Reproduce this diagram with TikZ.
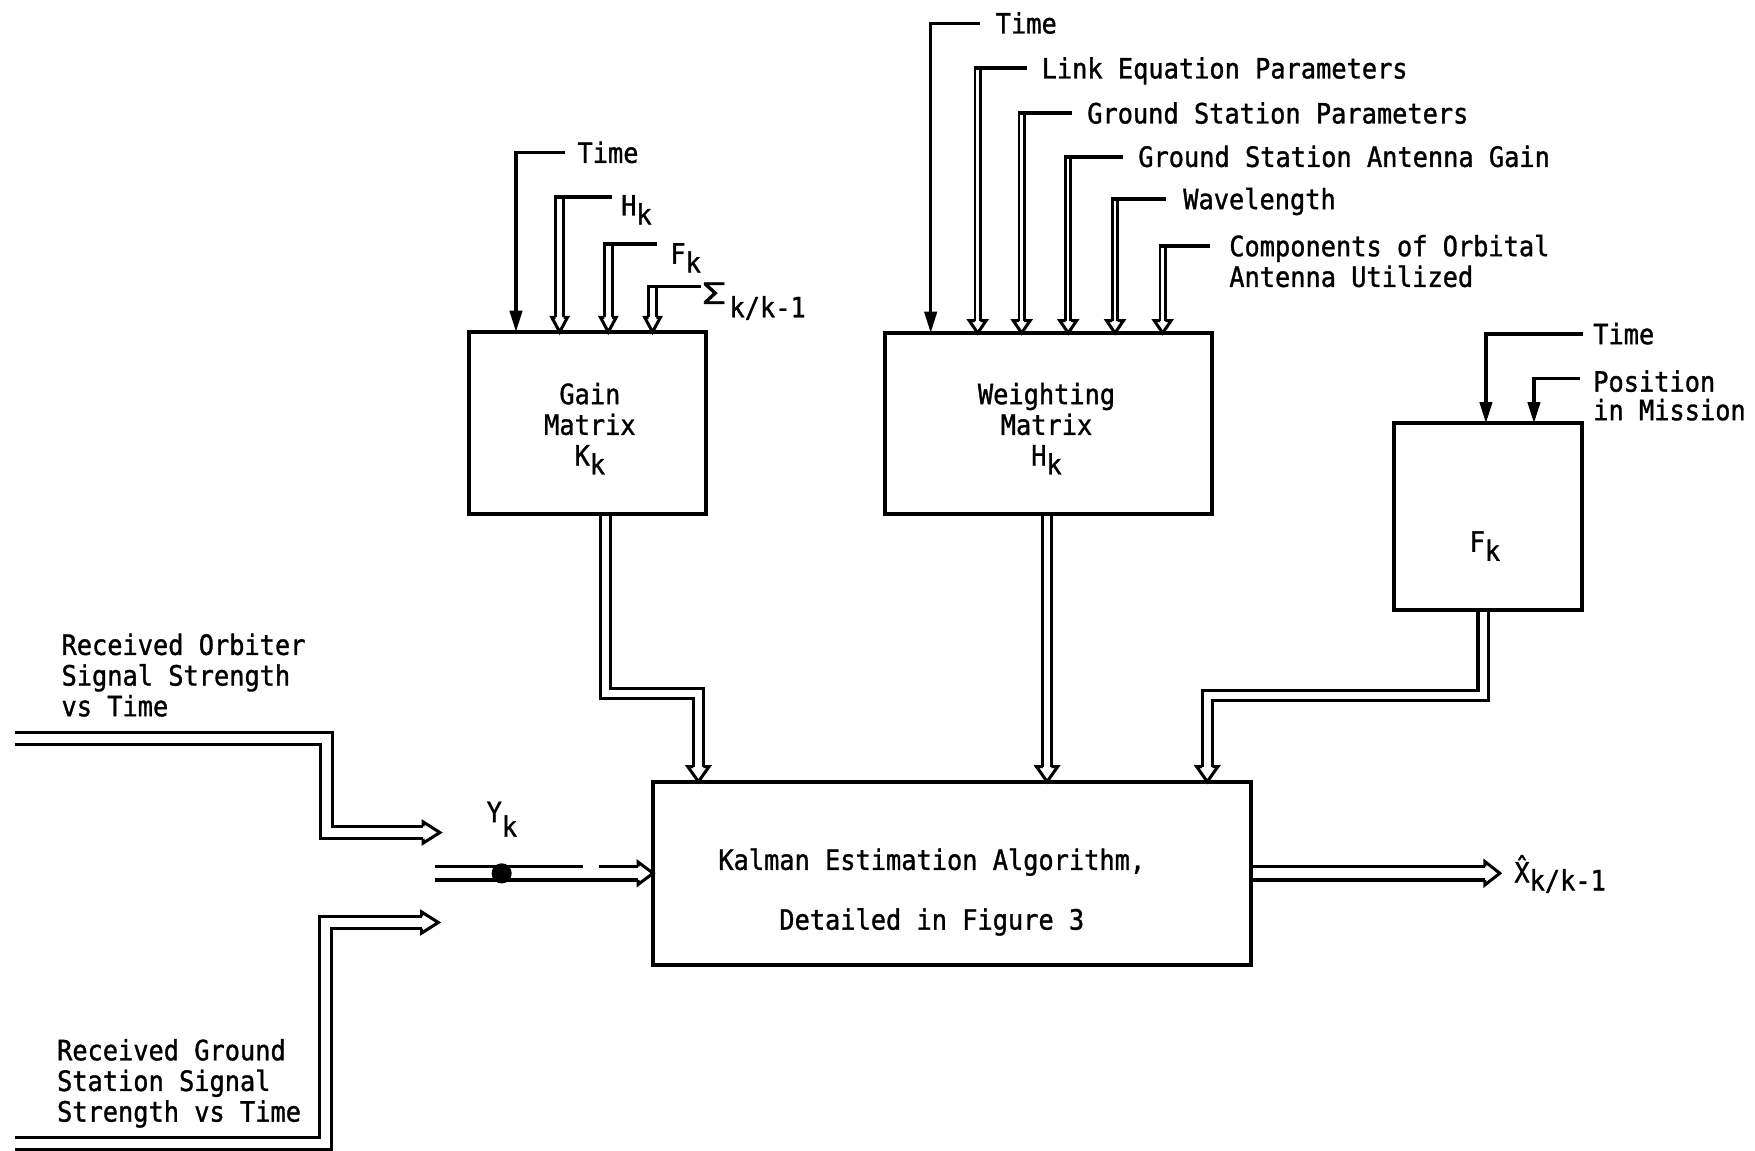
\documentclass[tikz,border=0pt]{standalone}
\usepackage{fontspec}
\usepackage{graphicx}
\newfontfamily\lbfont{DejaVu Sans Mono}[FakeStretch=0.905,FakeBold=1.2]
\usetikzlibrary{arrows.meta,calc,backgrounds}
\newcommand\lowsub[2][8pt]{\raisebox{-#1}{#2}}
\tikzset{
  pics/htipd/.style args={#1/#2/#3}{code={\draw[line width=2.7pt,line join=miter] (-#1,-#3) -- (-#2,-#3) -- (0,0) -- (#2,-#3) -- (#1,-#3);}},
  pics/htipr/.style args={#1/#2/#3}{code={\draw[line width=2.7pt,line join=miter] (-#3,-#1) -- (-#3,-#2) -- (0,0) -- (-#3,#2) -- (-#3,#1);}},
}
\begin{document}
\begin{tikzpicture}[x=1pt,y=-1pt,
  every node/.style={inner sep=0pt, outer sep=0pt, font=\lbfont\fontsize{25pt}{27.4pt}\selectfont},
  box/.style={draw, line width=3.6pt},
  lbl/.style={anchor=base west, align=left},
  lead/.style={line width=3.3pt},
  sarr/.style={line width=2.9pt, -{Triangle[width=11pt,length=19pt]}},
  dbl/.style args={#1/#2}{double, line width=#1, double distance=#2}]
\path[use as bounding box] (0,0) rectangle (1568,1028);

% boxes
\node[box, minimum width=212pt, minimum height=162.4pt] (gain) at (525,377.8) {};
\node[align=center] (gaintxt) at (527,383) {Gain\\Matrix\\K\lowsub{k}};
\node[box, minimum width=291.8pt, minimum height=161.5pt] (wt) at (936.6,378.25) {};
\node[align=center] (wttxt) at (935,383) {Weighting\\Matrix\\H\lowsub{k}};
\node[box, minimum width=167.6pt, minimum height=166.8pt] (fk) at (1329.2,461.6) {};
\node[anchor=base west] (fktxt) at (1313,493) {F\lowsub{k}};
\node[box, minimum width=534.5pt, minimum height=163.6pt] (kal) at (850.75,780.2) {};
\node[align=center] (kaltxt) at (832.5,797) {Kalman Estimation Algorithm,\\[26pt]Detailed in Figure 3};

% labels of weighting matrix inputs (base = last line baseline)
\node[lbl] (wt1) at (889.7,29.9) {Time};
\node[lbl] (wt2) at (930.7,70.1) {Link Equation Parameters};
\node[lbl] (wt3) at (971.4,110.3) {Ground Station Parameters};
\node[lbl] (wt4) at (1017,149.1) {Ground Station Antenna Gain};
\node[lbl] (wt5) at (1057.2,186.9) {Wavelength};
\node[lbl] (wt6) at (1098.3,256.3) {Components of Orbital\\Antenna Utilized};

% labels of gain matrix inputs
\node[lbl] (g1) at (516,145.5) {Time};
\node[lbl] (g2) at (555,192.5) {H\lowsub{k}};
\node[lbl] (g3) at (599,235.5) {F\lowsub{k}};
\node[lbl] (g4) at (627,271.5) {\scalebox{1.6}[1.05]{Σ}\hspace{3pt}\lowsub[12pt]{k/k-1}};

% labels of F_k inputs
\node[lbl] (f1) at (1423.5,307.5) {Time};
\node[lbl, font=\lbfont\fontsize{25pt}{25.5pt}\selectfont] (f2) at (1423.5,375.4) {Position\\in Mission};

% left texts
\node[lbl] (orbtxt) at (55,639.9) {Received Orbiter\\Signal Strength\\vs Time};
\node[lbl] (gndtxt) at (51,1002.1) {Received Ground\\Station Signal\\Strength vs Time};
\node[lbl] (yk) at (434.8,734.5) {Y\lowsub[13pt]{k}};
\node[lbl] (xh) at (1353,788.5) {X̂\lowsub[7pt]{k/k-1}};

% coordinates
\coordinate (wc1) at (831.5,20.8);
\coordinate (wc2) at (873.5,61);
\coordinate (wc3) at (912.8,101.2);
\coordinate (wc4) at (954.4,140);
\coordinate (wc5) at (996.2,177.8);
\coordinate (wc6) at (1038.8,219.8);
\coordinate (gc1) at (461,136.4);
\coordinate (gc2) at (500,175.7);
\coordinate (gc3) at (543.5,218.3);
\coordinate (gc4) at (583,256);
\coordinate (fc1) at (1327.6,298.4);
\coordinate (fc2) at (1370.5,338);
\coordinate (kin1) at ([xshift=-226.75pt]kal.north);
\coordinate (kin2) at ([xshift=84.75pt]kal.north);
\coordinate (kin3) at ([xshift=227.85pt]kal.north);
\coordinate (xout) at (1340,780.2);
\coordinate (orbS) at (13.4,660);
\coordinate (orbT) at (393,743.8);
\coordinate (gndS) at (13.4,1021.5);
\coordinate (gndT) at (391.6,824.2);
\coordinate (ykS) at (389,780.2);

\begin{pgfonlayer}{background}
% weighting matrix inputs
\draw[sarr, shorten <=14.4pt] (wc1 -| wt1.west) -- (wc1) -- (wc1 |- wt.north);
\foreach \i/\g in {2/13.4,3/13.9,4/14,5/15.3,6/17.3}{
  \draw[dbl=2.4pt/2.2pt] (wc\i) -- ($(wc\i |- wt.north)+(0,-11)$);
  \pic at (wc\i |- wt.north) {htipd=2.3/7.5/11};
  \draw[lead, shorten >=\g pt] ([xshift=-3.6pt]wc\i) -- (wc\i -| wt\i.west);
}
% gain matrix inputs
\draw[sarr, shorten <=11pt] (gc1 -| g1.west) -- (gc1) -- (gc1 |- gain.north);
\foreach \i/\g in {2/8.5,3/12.3,4/1}{
  \draw[dbl=2.6pt/4.4pt] (gc\i) -- ($(gc\i |- gain.north)+(0,-13)$);
  \pic at (gc\i |- gain.north) {htipd=3.5/7/13};
  \draw[lead, shorten >=\g pt] ([xshift=-4.8pt]gc\i) -- (gc\i -| g\i.west);
}
% F_k inputs
\draw[sarr, shorten <=8.9pt] (fc1 -| f1.west) -- (fc1) -- (fc1 |- fk.north);
\draw[sarr, shorten <=11.9pt] (fc2 -| f2.west) -- (fc2) -- (fc2 |- fk.north);

% outputs into Kalman
\draw[dbl=2.8pt/6.2pt] ([xshift=16pt]gain.south) -- ++(0,160.5) -| ($(kin1)+(0,-13.5)$);
\pic at (kin1) {htipd=4.5/9.5/13.5};
\draw[dbl=2.8pt/4.7pt] (kin2 |- wt.south) -- ($(kin2)+(0,-13.5)$);
\pic at (kin2) {htipd=3.75/9.5/13.5};
\draw[dbl=2.8pt/6.2pt] ([xshift=-4.2pt]fk.south) -- ++(0,76.7) -| ($(kin3)+(0,-13.5)$);
\pic at (kin3) {htipd=4.5/9.5/13.5};

% Kalman output
\draw[dbl=2.8pt/9.2pt] (kal.east) -- ($(xout)+(-13.4,0)$);
\pic at (xout) {htipr=6/10.5/13.4};

% left inputs
\draw[dbl=2.8pt/8pt] (orbS) -- ++(278.6,0) |- ($(orbT)+(-15,0)$);
\pic at (orbT) {htipr=5.4/9.5/15};
\draw[dbl=2.8pt/8pt] (gndS) -- ++(277.6,0) |- ($(gndT)+(-15,0)$);
\pic at (gndT) {htipr=5.4/9.5/15};

% Y_k into Kalman
\draw[line width=2.8pt] ($(ykS)+(0,6)$) -- ($(kal.west)+(-13.4,6)$);
\draw[line width=2.8pt] ($(ykS)+(0,-6)$) -- ++(132,0);
\draw[line width=2.8pt] ($(kal.west)+(-48,-6)$) -- ($(kal.west)+(-13.4,-6)$);
\pic at (kal.west) {htipr=6/10/13.4};
\end{pgfonlayer}
\node[circle, fill, minimum size=18pt] (ykdot) at (448.2,780.3) {};
\end{tikzpicture}
\end{document}
